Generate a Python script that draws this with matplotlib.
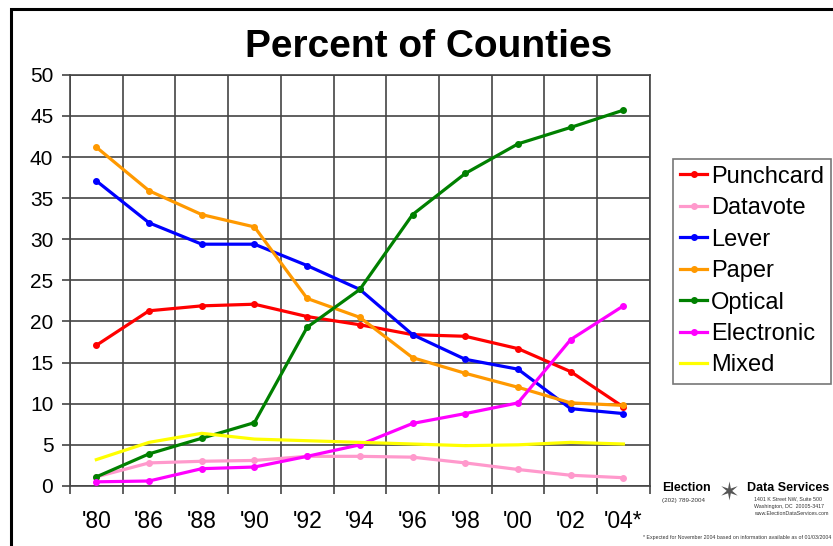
import matplotlib.pyplot as plt
from matplotlib.patches import Rectangle

plt.rcParams['font.family'] = ['Liberation Sans', 'DejaVu Sans']

years = ["'80", "'86", "'88", "'90", "'92", "'94", "'96", "'98", "'00", "'02", "'04*"]

punchcard = [17.1, 21.3, 21.9, 22.1, 20.6, 19.6, 18.4, 18.2, 16.7, 13.9, 9.6]
datavote = [1.1, 2.8, 3.0, 3.1, 3.6, 3.6, 3.5, 2.8, 2.0, 1.3, 1.0]
lever = [37.1, 32.0, 29.4, 29.4, 26.8, 23.9, 18.4, 15.4, 14.2, 9.4, 8.8]
paper = [41.2, 35.9, 33.0, 31.5, 22.8, 20.5, 15.6, 13.7, 12.0, 10.1, 9.8]
optical = [1.1, 3.9, 5.8, 7.7, 19.3, 23.9, 33.0, 38.0, 41.6, 43.6, 45.7]
electronic = [0.5, 0.6, 2.1, 2.3, 3.6, 5.0, 7.6, 8.8, 10.1, 17.8, 21.9]
mixed = [3.2, 5.3, 6.4, 5.7, 5.5, 5.3, 5.1, 4.9, 5.0, 5.3, 5.1]

series = [
    ("Punchcard", punchcard, "#ff0000", "o"),
    ("Datavote", datavote, "#ff99cc", "o"),
    ("Lever", lever, "#0000ff", "o"),
    ("Paper", paper, "#ff9900", "o"),
    ("Optical", optical, "#008000", "o"),
    ("Electronic", electronic, "#ff00ff", "o"),
    ("Mixed", mixed, "#ffff00", None),
]

fig = plt.figure(figsize=(8.33, 5.46), dpi=100)
ax = fig.add_axes([0.084, 0.110, 0.696, 0.753])

x = list(range(len(years)))
for name, vals, color, marker in series:
    ax.plot(x, vals, color=color, lw=2.3, marker=marker, ms=4,
            label=name, zorder=3)

ax.set_xlim(-0.5, len(years) - 0.5)
ax.set_ylim(0, 50)
ax.set_yticks(range(0, 51, 5))
ax.set_xticks(x)
ax.set_xticklabels(years, fontsize=16.5)
ax.set_xticks([i - 0.5 for i in range(len(years) + 1)], minor=True)
ax.tick_params(axis='x', which='major', length=0, pad=17)
ax.tick_params(axis='x', which='minor', length=6, width=1.2, color='#444444')
ax.tick_params(axis='y', labelsize=15, length=6, width=1.2, color='#444444', pad=6)

ax.grid(True, axis='y', which='major', color='#444444', lw=1.2)
ax.grid(True, axis='x', which='minor', color='#444444', lw=1.2)
for s in ax.spines.values():
    s.set_color('#444444')
    s.set_linewidth(1.2)

fig.text(0.515, 0.895, "Percent of Counties", fontsize=28, fontweight='bold',
         ha='center', va='baseline')

leg = ax.legend(loc='upper left', bbox_to_anchor=(1.040, 0.796), fontsize=17,
                frameon=True, fancybox=False, edgecolor='#555555',
                handlelength=1.15, handletextpad=0.15, labelspacing=0.4,
                borderpad=0.3, borderaxespad=0)
leg.get_frame().set_linewidth(1.2)

# outer frame
fig.patches.append(Rectangle((11 / 833, -0.05), 1.0, 1 - 9 / 546 + 0.05,
                             transform=fig.transFigure, fill=False,
                             edgecolor='black', lw=2.2))

# publisher block
fig.text(0.795, 0.100, "Election", fontsize=9, fontweight='bold', ha='left')
fig.text(0.795, 0.080, "(202) 789-2004", fontsize=4.5, ha='left', color='#333333')
fig.text(0.876, 0.098, "\u2736", fontsize=18, ha='center', va='center', color='#555555')
fig.text(0.897, 0.100, "Data Services", fontsize=9, fontweight='bold', ha='left')
fig.text(0.905, 0.083, "1401 K Street NW, Suite 500", fontsize=3.8, ha='left', color='#333333')
fig.text(0.905, 0.070, "Washington, DC  20005-3417", fontsize=3.8, ha='left', color='#333333')
fig.text(0.905, 0.057, "www.ElectionDataServices.com", fontsize=3.8, ha='left', color='#333333')
fig.text(0.998, 0.012, "* Expected for November 2004 based on information available as of 01/03/2004",
         fontsize=3.8, ha='right', color='#333333')

fig.savefig("out.png", dpi=100)
